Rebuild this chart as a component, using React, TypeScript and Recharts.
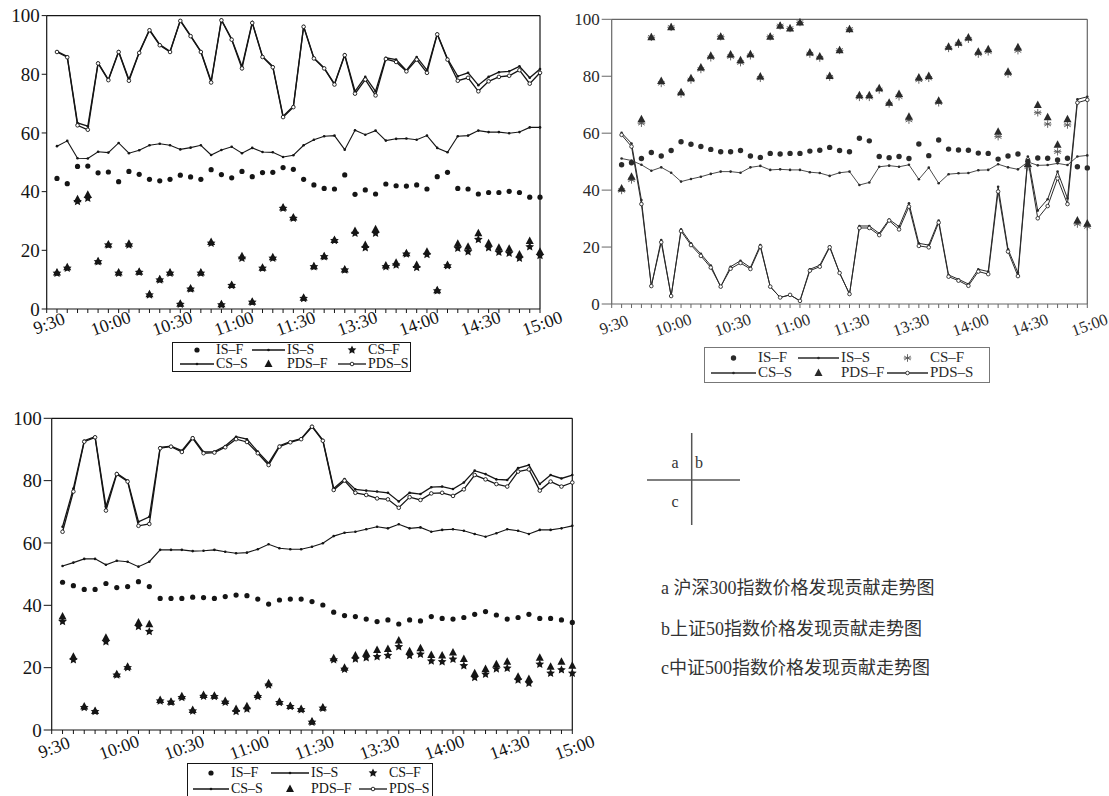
import React from 'react';
import { LineChart, Line, XAxis, YAxis, ReferenceLine } from 'recharts';

const times = [
  '9:30', '9:35', '9:40', '9:45', '9:50', '9:55', '10:00', '10:05', '10:10', '10:15', '10:20', '10:25',
  '10:30', '10:35', '10:40', '10:45', '10:50', '10:55', '11:00', '11:05', '11:10', '11:15', '11:20', '11:25',
  '11:30', '13:05', '13:10', '13:15', '13:20', '13:25', '13:30', '13:35', '13:40', '13:45', '13:50', '13:55',
  '14:00', '14:05', '14:10', '14:15', '14:20', '14:25', '14:30', '14:35', '14:40', '14:45', '14:50', '14:55', '15:00',
];
const tickLabels = ['9:30', '10:00', '10:30', '11:00', '11:30', '13:30', '14:00', '14:30', '15:00'];
const yTicks = [0, 20, 40, 60, 80, 100];

// a: 沪深300
const aIsS = [55.5, 57.3, 51.4, 51.3, 53.6, 53.3, 56.6, 53.1, 54.1, 55.8, 56.3, 55.8, 54.4, 55.0, 55.8, 52.5, 54.2, 55.3, 53.1, 54.9, 53.5, 53.4, 51.8, 52.4, 55.8, 57.7, 58.9, 59.1, 54.3, 60.9, 59.4, 60.8, 57.4, 58.0, 58.1, 57.7, 59.1, 54.9, 53.4, 58.9, 59.1, 60.8, 60.3, 60.3, 59.9, 60.3, 61.9, 61.9];
const aIsF = [44.5, 42.7, 48.6, 48.7, 46.4, 46.7, 43.4, 46.9, 45.9, 44.2, 43.7, 44.2, 45.6, 45.0, 44.2, 47.5, 45.8, 44.7, 46.9, 45.1, 46.5, 46.6, 48.2, 47.6, 44.2, 42.3, 41.1, 40.9, 45.7, 39.1, 40.6, 39.2, 42.6, 42.0, 41.9, 42.3, 40.9, 45.1, 46.6, 41.1, 40.9, 39.2, 39.7, 39.7, 40.1, 39.7, 38.1, 38.1];
const aCsS = [87.8, 86.1, 63.4, 62.3, 83.9, 78.2, 87.8, 78.2, 87.5, 95.2, 90.1, 87.8, 98.4, 93.2, 87.8, 77.6, 98.6, 92.0, 82.7, 97.7, 86.1, 82.7, 65.7, 69.1, 96.4, 85.6, 82.2, 76.7, 86.7, 74.2, 79.1, 74.2, 85.6, 85.0, 81.3, 85.9, 81.4, 93.8, 85.3, 79.3, 80.5, 76.3, 79.1, 80.7, 81.0, 82.7, 78.8, 81.8];
const aCsF = [12.2, 13.9, 36.6, 37.7, 16.1, 21.8, 12.2, 21.8, 12.5, 4.8, 9.9, 12.2, 1.6, 6.8, 12.2, 22.4, 1.4, 8.0, 17.3, 2.3, 13.9, 17.3, 34.3, 30.9, 3.6, 14.4, 17.8, 23.3, 13.3, 25.8, 20.9, 25.8, 14.4, 15.0, 18.7, 14.1, 18.6, 6.2, 14.7, 20.7, 19.5, 23.7, 20.9, 19.3, 19.0, 17.3, 21.2, 18.2];
const aPdsS = [87.6, 85.8, 62.6, 61.1, 83.7, 78.0, 87.6, 77.8, 87.3, 95.0, 89.9, 87.6, 98.2, 93.0, 87.6, 77.2, 98.4, 91.8, 82.0, 97.5, 85.9, 82.4, 65.4, 68.8, 96.2, 85.4, 82.0, 76.5, 86.5, 73.4, 78.2, 72.8, 85.2, 84.2, 81.0, 85.0, 80.5, 93.6, 85.0, 77.8, 78.8, 74.2, 77.6, 79.1, 79.5, 81.4, 76.8, 80.5];
const aPdsF = [12.4, 14.2, 37.4, 38.9, 16.3, 22.0, 12.4, 22.2, 12.7, 5.0, 10.1, 12.4, 1.8, 7.0, 12.4, 22.8, 1.6, 8.2, 18.0, 2.5, 14.1, 17.6, 34.6, 31.2, 3.8, 14.6, 18.0, 23.5, 13.5, 26.6, 21.8, 27.2, 14.8, 15.8, 19.0, 15.0, 19.5, 6.4, 15.0, 22.2, 21.2, 25.8, 22.4, 20.9, 20.5, 18.6, 23.2, 19.5];

// b: 上证50
const bIsS = [51.1, 50.4, 48.9, 46.8, 48.0, 46.1, 43.0, 43.9, 44.7, 45.7, 46.5, 46.5, 46.1, 48.0, 48.5, 47.1, 47.3, 47.1, 47.1, 46.3, 46.0, 45.0, 46.1, 46.5, 41.8, 42.7, 48.2, 48.6, 48.2, 48.9, 43.8, 47.9, 42.4, 45.6, 45.9, 46.0, 47.0, 47.1, 49.1, 48.0, 47.3, 49.9, 48.7, 48.8, 49.4, 48.8, 51.8, 52.2];
const bIsF = [48.9, 49.6, 51.1, 53.2, 52.0, 53.9, 57.0, 56.1, 55.3, 54.3, 53.5, 53.5, 53.9, 52.0, 51.5, 52.9, 52.7, 52.9, 52.9, 53.7, 54.0, 55.0, 53.9, 53.5, 58.2, 57.3, 51.8, 51.4, 51.8, 51.1, 56.2, 52.1, 57.6, 54.4, 54.1, 54.0, 53.0, 52.9, 50.9, 52.0, 52.7, 50.1, 51.3, 51.2, 50.6, 51.2, 48.2, 47.8];
const bCsS = [60.1, 56.4, 36.5, 6.3, 22.5, 2.8, 26.2, 21.3, 17.6, 13.5, 6.1, 13.1, 15.2, 12.8, 20.7, 6.1, 2.3, 3.2, 1.1, 12.2, 13.6, 20.3, 10.9, 3.5, 27.4, 27.4, 24.8, 29.7, 27.2, 35.4, 21.3, 20.7, 29.3, 10.2, 8.7, 7.0, 12.2, 11.4, 41.2, 19.2, 11.0, 51.8, 32.8, 36.8, 46.5, 37.1, 71.9, 72.8];
const bCsF = [39.9, 43.6, 63.5, 93.7, 77.5, 97.2, 73.8, 78.7, 82.4, 86.5, 93.9, 86.9, 84.8, 87.2, 79.3, 93.9, 97.7, 96.8, 98.9, 87.8, 86.4, 79.7, 89.1, 96.5, 72.6, 72.6, 75.2, 70.3, 72.8, 64.6, 78.7, 79.3, 70.7, 89.8, 91.3, 93.0, 87.8, 88.6, 58.8, 80.8, 89.0, 48.2, 67.2, 63.2, 53.5, 62.9, 28.1, 27.2];
const bPdsS = [59.4, 55.3, 35.1, 6.3, 21.7, 2.8, 25.6, 20.7, 16.9, 12.8, 6.1, 12.4, 14.4, 12.3, 20.1, 6.1, 2.3, 3.2, 1.1, 11.7, 13.1, 19.9, 10.9, 3.5, 26.7, 26.7, 24.2, 29.3, 26.2, 34.2, 20.4, 19.9, 28.6, 9.6, 8.2, 6.4, 11.4, 10.5, 39.5, 18.4, 9.8, 50.8, 30.1, 34.4, 44.1, 35.1, 70.7, 71.7];
const bPdsF = [40.6, 44.7, 64.9, 93.7, 78.3, 97.2, 74.4, 79.3, 83.1, 87.2, 93.9, 87.6, 85.6, 87.7, 79.9, 93.9, 97.7, 96.8, 98.9, 88.3, 86.9, 80.1, 89.1, 96.5, 73.3, 73.3, 75.8, 70.7, 73.8, 65.8, 79.6, 80.1, 71.4, 90.4, 91.8, 93.6, 88.6, 89.5, 60.5, 81.6, 90.2, 49.2, 69.9, 65.6, 55.9, 64.9, 29.3, 28.3];

// c: 中证500
const cIsS = [52.6, 53.7, 54.9, 54.9, 53.0, 54.3, 54.0, 52.4, 54.0, 57.8, 57.8, 57.8, 57.4, 57.5, 57.8, 57.2, 56.7, 56.9, 58.0, 59.6, 58.3, 58.0, 58.0, 58.8, 59.9, 62.2, 63.3, 63.6, 64.4, 65.2, 64.7, 66.0, 64.7, 65.0, 63.6, 64.2, 64.4, 63.9, 62.9, 62.0, 63.1, 64.4, 63.9, 62.9, 64.2, 64.2, 64.7, 65.5];
const cIsF = [47.4, 46.3, 45.1, 45.1, 47.0, 45.7, 46.0, 47.6, 46.0, 42.2, 42.2, 42.2, 42.6, 42.5, 42.2, 42.8, 43.3, 43.1, 42.0, 40.4, 41.7, 42.0, 42.0, 41.2, 40.1, 37.8, 36.7, 36.4, 35.6, 34.8, 35.3, 34.0, 35.3, 35.0, 36.4, 35.8, 35.6, 36.1, 37.1, 38.0, 36.9, 35.6, 36.1, 37.1, 35.8, 35.8, 35.3, 34.5];
const cCsS = [65.2, 77.5, 92.8, 94.1, 71.7, 82.4, 80.0, 66.8, 68.4, 90.7, 91.1, 89.6, 93.9, 89.2, 89.3, 91.1, 94.1, 93.3, 89.3, 85.6, 91.2, 92.5, 93.5, 97.5, 93.0, 77.5, 80.5, 77.2, 76.8, 76.5, 76.1, 73.3, 76.1, 75.7, 77.9, 78.1, 77.3, 79.4, 83.2, 82.1, 80.4, 80.2, 84.0, 85.0, 78.9, 81.8, 80.7, 81.8];
const cCsF = [34.8, 22.5, 7.2, 5.9, 28.3, 17.6, 20.0, 33.2, 31.6, 9.3, 8.9, 10.4, 6.1, 10.8, 10.7, 8.9, 5.9, 6.7, 10.7, 14.4, 8.8, 7.5, 6.5, 2.5, 7.0, 22.5, 19.5, 22.8, 23.2, 23.5, 23.9, 26.7, 23.9, 24.3, 22.1, 21.9, 22.7, 20.6, 16.8, 17.9, 19.6, 19.8, 16.0, 15.0, 21.1, 18.2, 19.3, 18.2];
const cPdsS = [63.6, 76.5, 92.5, 93.9, 70.4, 82.1, 79.7, 65.5, 66.1, 90.4, 90.9, 89.2, 93.6, 88.8, 89.0, 90.7, 93.3, 92.4, 88.8, 85.0, 90.9, 92.3, 93.3, 97.3, 92.8, 77.0, 80.0, 76.1, 75.4, 74.3, 74.0, 71.3, 74.7, 73.8, 75.9, 76.1, 75.1, 77.2, 81.8, 80.4, 78.9, 78.1, 82.9, 83.6, 76.8, 79.7, 78.1, 79.4];
const cPdsF = [36.4, 23.5, 7.5, 6.1, 29.6, 17.9, 20.3, 34.5, 33.9, 9.6, 9.1, 10.8, 6.4, 11.2, 11.0, 9.3, 6.7, 7.6, 11.2, 15.0, 9.1, 7.7, 6.7, 2.7, 7.2, 23.0, 20.0, 23.9, 24.6, 25.7, 26.0, 28.7, 25.3, 26.2, 24.1, 23.9, 24.9, 22.8, 18.2, 19.6, 21.1, 21.9, 17.1, 16.4, 23.2, 20.3, 21.9, 20.6];

const captions = ['a 沪深300指数价格发现贡献走势图', 'b上证50指数价格发现贡献走势图', 'c中证500指数价格发现贡献走势图'];

const SERIF = '"Liberation Serif", "DejaVu Serif", serif';

// first category (9:30) has no observation
const rowsFor = (isF, isS, csF, csS, pdsF, pdsS) =>
  times.map((t, i) =>
    i === 0
      ? { time: t }
      : { time: t, isF: isF[i - 1], isS: isS[i - 1], csF: csF[i - 1], csS: csS[i - 1], pdsF: pdsF[i - 1], pdsS: pdsS[i - 1] }
  );

function shape(kind, x, y, color, key?) {
  switch (kind) {
    case 'dot':
      return <circle key={key} cx={x} cy={y} r={2.6} fill={color} />;
    case 'bigdot':
      return <circle key={key} cx={x} cy={y} r={2.7} fill={color} />;
    case 'tiny':
      return <circle key={key} cx={x} cy={y} r={1.3} fill={color} />;
    case 'ring':
      return <circle key={key} cx={x} cy={y} r={1.8} fill="#fff" stroke={color} strokeWidth={0.9} />;
    case 'tri':
      return <polygon key={key} points={`${x},${y - 4.5} ${x + 4},${y + 3} ${x - 4},${y + 3}`} fill={color} />;
    case 'star': {
      const pts = [];
      for (let k = 0; k < 10; k++) {
        const a = (-90 + k * 36) * Math.PI / 180;
        const r = k % 2 ? 2.2 : 4.6;
        pts.push(`${x + r * Math.cos(a)},${y + r * Math.sin(a)}`);
      }
      return <polygon key={key} points={pts.join(' ')} fill={color} />;
    }
    case 'asterisk':
      return (
        <g key={key} stroke={color} strokeWidth={0.9}>
          <line x1={x} y1={y - 3.8} x2={x} y2={y + 3.8} />
          <line x1={x - 3.3} y1={y - 1.9} x2={x + 3.3} y2={y + 1.9} />
          <line x1={x - 3.3} y1={y + 1.9} x2={x + 3.3} y2={y - 1.9} />
          <line x1={x - 3.8} y1={y} x2={x + 3.8} y2={y} />
        </g>
      );
    default:
      return <g key={key} />;
  }
}

const dotFn = (kind, color) => (p) => {
  const key = `${kind}-${p.index}`;
  if (p.cx == null || p.cy == null || Number.isNaN(p.cy) || p.value == null) return <g key={key} />;
  return shape(kind, p.cx, p.cy, color, key);
};

const fmtTime = (v) => (tickLabels.includes(v) ? v : '');

function Panel({ rows, left, top, width, height, plotLeft, plotTop, plotBottom, plotRight, ink, axisInk, lineW, fs, xfs, xgap, ytick, marks }) {
  return (
    <div style={{ position: 'absolute', left, top }}>
      <LineChart width={width} height={height} data={rows}
        margin={{ top: plotTop, right: width - plotRight, left: 0, bottom: 0 }}
        style={{ fontFamily: SERIF, overflow: 'visible' }}>
        <XAxis dataKey="time" type="category" scale="point" interval={0} height={height - plotBottom}
          tickSize={4} tickMargin={xgap} tickFormatter={fmtTime}
          axisLine={{ stroke: axisInk, strokeWidth: 1.2 }} tickLine={{ stroke: axisInk }}
          tick={{ angle: -20, textAnchor: 'middle', fontSize: xfs, fill: ink, fontFamily: SERIF }} />
        <YAxis type="number" domain={[0, 100]} ticks={yTicks} interval={0} width={plotLeft}
          tickSize={ytick} tickMargin={2} axisLine={{ stroke: axisInk, strokeWidth: 1.2 }} tickLine={{ stroke: axisInk }}
          tick={{ fontSize: fs, fill: ink, fontFamily: SERIF }} />
        <ReferenceLine y={100} stroke={axisInk} strokeWidth={1.2} />
        <ReferenceLine x="15:00" stroke={axisInk} strokeWidth={1.2} />
        <Line dataKey="isS" stroke={ink} strokeWidth={lineW * 0.85} dot={dotFn('tiny', ink)} activeDot={false} isAnimationActive={false} />
        <Line dataKey="csS" stroke={ink} strokeWidth={lineW} dot={dotFn('tiny', ink)} activeDot={false} isAnimationActive={false} />
        <Line dataKey="pdsS" stroke={ink} strokeWidth={lineW} dot={dotFn('ring', ink)} activeDot={false} isAnimationActive={false} />
        <Line dataKey="isF" stroke="none" dot={dotFn(marks[0], ink)} activeDot={false} isAnimationActive={false} />
        <Line dataKey="csF" stroke="none" dot={dotFn(marks[1], marks[1] === 'asterisk' ? '#555' : ink)} activeDot={false} isAnimationActive={false} />
        <Line dataKey="pdsF" stroke="none" dot={dotFn('tri', ink)} activeDot={false} isAnimationActive={false} />
      </LineChart>
    </div>
  );
}

function LegendIcon({ kind, w, color, starKind, dotKind }) {
  const y = 7;
  const cx = w / 2;
  let el;
  if (kind === 'isF') el = shape(dotKind, cx, y, color);
  else if (kind === 'csF') el = shape(starKind, cx, y, starKind === 'asterisk' ? '#555' : color);
  else if (kind === 'pdsF') el = shape('tri', cx, y, color);
  else {
    const m = kind === 'pdsS' ? 'ring' : 'tiny';
    el = (
      <g>
        <line x1={2} y1={y} x2={w - 2} y2={y} stroke={color} strokeWidth={1.3} />
        {shape(m, cx, y, color)}
      </g>
    );
  }
  return <svg width={w} height={14} style={{ display: 'block' }}>{el}</svg>;
}

function Legend({ left, top, width, height, cols, rowH, padTop, padLeft, border, color, fs, starKind, dotKind }) {
  const items = [['isF', 'IS–F'], ['isS', 'IS–S'], ['csF', 'CS–F'], ['csS', 'CS–S'], ['pdsF', 'PDS–F'], ['pdsS', 'PDS–S']];
  return (
    <div style={{ position: 'absolute', left, top, width, height, boxSizing: 'border-box', border: `1.5px solid ${border}`, background: '#fff',
      paddingTop: padTop, paddingLeft: padLeft, fontFamily: SERIF, fontSize: fs, color,
      display: 'grid', gridTemplateColumns: cols.map((c) => `${c}px`).join(' '), gridAutoRows: `${rowH}px`, alignItems: 'center' }}>
      {items.map(([k, label], i) => [
        <div key={`i${i}`}><LegendIcon kind={k} w={cols[(i % 3) * 2]} color={color} starKind={starKind} dotKind={dotKind} /></div>,
        <div key={`t${i}`} style={{ lineHeight: `${rowH}px`, whiteSpace: 'nowrap' }}>{label}</div>,
      ])}
    </div>
  );
}

export default function App() {
  const rowsA = rowsFor(aIsF, aIsS, aCsF, aCsS, aPdsF, aPdsS);
  const rowsB = rowsFor(bIsF, bIsS, bCsF, bCsS, bPdsF, bPdsS);
  const rowsC = rowsFor(cIsF, cIsS, cCsF, cCsS, cPdsF, cPdsS);
  return (
    <div style={{ position: 'absolute', left: 0, top: 0, width: 1109, height: 796, background: '#fff', overflow: 'hidden' }}>
      <Panel rows={rowsA} left={0} top={0} width={572} height={340} plotLeft={46.7} plotTop={15.6} plotBottom={309} plotRight={540}
        ink="#151515" axisInk="#151515" lineW={1.3} fs={19} xfs={18} xgap={4} ytick={5} marks={['dot', 'star']} />
      <Panel rows={rowsB} left={570} top={0} width={539} height={340} plotLeft={41.7} plotTop={19.3} plotBottom={304} plotRight={517.3}
        ink="#2a2a2a" axisInk="#666" lineW={1} fs={17} xfs={16.5} xgap={11} ytick={10} marks={['bigdot', 'asterisk']} />
      <Panel rows={rowsC} left={0} top={400} width={612} height={365} plotLeft={51.7} plotTop={18.3} plotBottom={330} plotRight={572.3}
        ink="#151515" axisInk="#151515" lineW={1.3} fs={19} xfs={18} xgap={7} ytick={8} marks={['dot', 'star']} />

      <Legend left={172} top={342} width={239} height={30} cols={[38, 34, 37, 49, 32, 42]} rowH={14.3} padTop={0} padLeft={5}
        border="#151515" color="#151515" fs={14} starKind="star" dotKind="dot" />
      <Legend left={704} top={347} width={286} height={36} cols={[49, 38, 45, 44, 45, 51]} rowH={15} padTop={2} padLeft={4}
        border="#777" color="#2a2a2a" fs={15} starKind="asterisk" dotKind="bigdot" />
      <Legend left={187} top={763} width={246} height={34} cols={[40, 38, 42, 46, 32, 40]} rowH={16} padTop={0.5} padLeft={3}
        border="#151515" color="#151515" fs={14} starKind="star" dotKind="dot" />

      <svg width={110} height={100} style={{ position: 'absolute', left: 640, top: 430 }}>
        <line x1={51.7} y1={3} x2={51.7} y2={95} stroke="#555" strokeWidth={1.5} />
        <line x1={7} y1={50} x2={100} y2={50} stroke="#555" strokeWidth={1.5} />
        <text x={35} y={38} fontFamily={SERIF} fontSize={16} fill="#333" textAnchor="middle">a</text>
        <text x={59} y={38} fontFamily={SERIF} fontSize={16} fill="#333" textAnchor="middle">b</text>
        <text x={35} y={77} fontFamily={SERIF} fontSize={16} fill="#333" textAnchor="middle">c</text>
      </svg>
      {captions.map((c, i) => (
        <div key={c} style={{ position: 'absolute', left: 661, top: [577, 618, 657][i], fontSize: 18, lineHeight: '22px',
          color: '#333', fontFamily: '"Liberation Serif", "Noto Sans CJK SC", serif', whiteSpace: 'nowrap' }}>
          {c}
        </div>
      ))}
    </div>
  );
}
